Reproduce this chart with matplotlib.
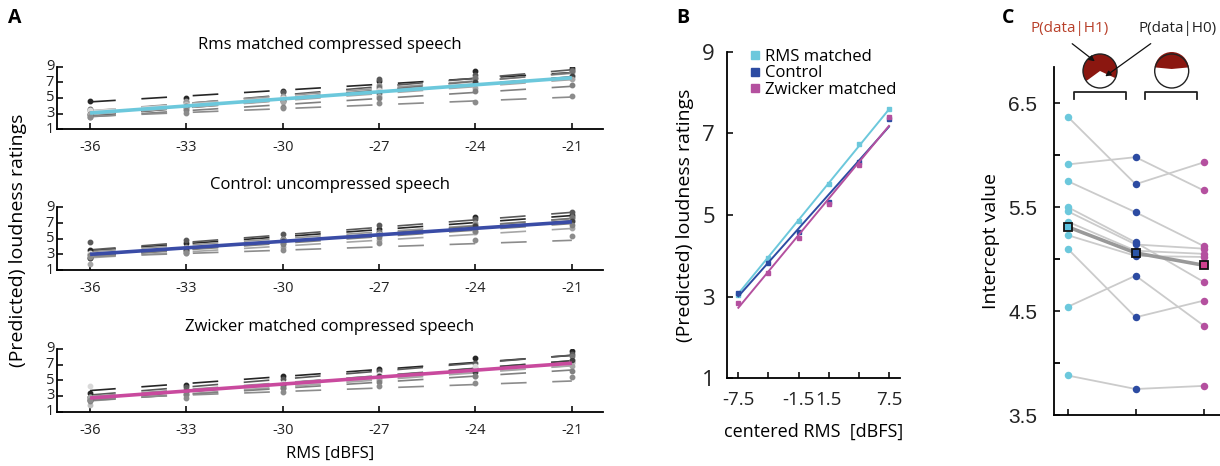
import numpy as np
import matplotlib.pyplot as plt
from matplotlib.patches import Wedge

plt.rcParams['font.family'] = ['Open Sans', 'DejaVu Sans']
plt.rcParams['axes.linewidth'] = 1.3
plt.rcParams['xtick.major.width'] = 1.3
plt.rcParams['ytick.major.width'] = 1.3
plt.rcParams['ytick.minor.width'] = 1.3

W, H = 1220, 466

# sound levels and centre used for the fits
levels = np.array([-36, -33, -30, -27, -24, -21])
centre = -28.5

cond_titles = ['Rms matched compressed speech', 'Control: uncompressed speech',
               'Zwicker matched compressed speech']
cond_names = ['RMS matched', 'Control', 'Zwicker matched']
cond_colors = ['#6CC8DC', '#2C4BA2', '#B4509F']
line_colors_a = ['#6CC8DC', '#3A4CA6', '#C94A9E']
mean_fill = ['#5BC2E0', '#2A55A8', '#D0408E']

# per participant intercepts (at centred RMS = 0)
rms_int = [6.37, 5.91, 5.75, 5.50, 5.46, 5.36, 5.23, 5.10, 4.54, 3.88]
ctl_int = [5.72, 5.98, 5.45, 5.16, 5.14, 5.08, 5.03, 4.44, 4.84, 3.75]
zw_int = [5.93, 5.66, 5.125, 4.78, 5.10, 5.05, 5.02, 4.60, 4.36, 3.78]

# per participant slopes (rating per dB)
rms_slope = [0.25, 0.36, 0.32, 0.29, 0.37, 0.27, 0.33, 0.30, 0.26, 0.165]
ctl_slope = [0.30, 0.32, 0.28, 0.27, 0.33, 0.29, 0.30, 0.25, 0.28, 0.14]
zw_slope = [0.30, 0.34, 0.29, 0.28, 0.32, 0.31, 0.33, 0.30, 0.26, 0.15]

# mean ratings per participant at each level
rms_pts = [[4.6, 5.0, 5.9, 7.2, 8.4, 8.8],
           [3.6, 4.5, 5.8, 7.4, 7.9, 8.6],
           [3.4, 4.6, 5.3, 6.6, 7.5, 8.3],
           [3.3, 4.2, 5.0, 6.1, 7.2, 8.0],
           [2.8, 4.0, 4.8, 6.4, 7.5, 8.4],
           [3.5, 3.9, 5.0, 6.0, 6.6, 7.5],
           [2.9, 3.8, 4.6, 5.6, 7.0, 7.8],
           [3.0, 3.6, 4.5, 5.3, 6.3, 7.4],
           [2.6, 3.4, 3.8, 5.0, 5.9, 6.6],
           [2.6, 3.1, 3.7, 4.3, 4.5, 5.2]]
ctl_pts = [[3.5, 4.4, 5.0, 6.3, 7.8, 8.0],
           [4.6, 4.8, 5.6, 6.8, 7.5, 8.4],
           [3.0, 4.0, 5.0, 5.8, 7.0, 7.6],
           [2.9, 3.8, 4.6, 5.5, 6.5, 7.4],
           [2.5, 3.6, 4.5, 5.8, 6.8, 7.8],
           [3.2, 3.7, 4.4, 5.6, 6.3, 7.2],
           [2.6, 3.5, 4.7, 5.5, 6.6, 7.3],
           [1.8, 3.2, 4.0, 4.9, 5.8, 6.4],
           [2.9, 3.3, 4.3, 5.2, 6.0, 6.8],
           [2.7, 3.2, 3.5, 4.4, 4.8, 5.3]]
zw_pts = [[3.4, 4.4, 5.6, 6.4, 7.9, 8.7],
          [2.9, 4.2, 5.2, 6.2, 7.2, 8.4],
          [2.6, 3.6, 4.6, 5.6, 6.5, 7.4],
          [1.8, 3.2, 4.2, 5.2, 6.3, 7.2],
          [2.8, 3.8, 4.5, 5.4, 6.6, 8.1],
          [4.3, 3.4, 4.6, 5.8, 6.8, 7.6],
          [2.5, 3.6, 4.4, 5.5, 6.0, 7.6],
          [2.9, 3.1, 4.0, 5.0, 5.6, 6.8],
          [2.4, 3.3, 4.0, 4.8, 5.6, 6.2],
          [2.5, 2.7, 3.5, 4.3, 4.7, 5.4]]

greys = [0.15, 0.35, 0.6, 0.75, 0.45, 0.85, 0.25, 0.65, 0.5, 0.55]

# group fits
fit_int = [5.33, 5.085, 4.955]
fit_slope = [0.301, 0.277, 0.297]
grp_rms = [3.05, 3.94, 4.85, 5.75, 6.75, 7.60]
grp_ctl = [3.08, 3.83, 4.59, 5.33, 6.29, 7.35]
grp_zw = [2.85, 3.59, 4.43, 5.27, 6.22, 7.39]

# pie shares for the Bayes factor icons
h1_share = [0.67, 0.47]


def rect(left, top, right, bottom):
    return [left / W, 1 - bottom / H, (right - left) / W, (bottom - top) / H]


fig = plt.figure(figsize=(W / 100, H / 100), dpi=100)

# ---------- panel A ----------
ints = [rms_int, ctl_int, zw_int]
slopes = [rms_slope, ctl_slope, zw_slope]
pts = [rms_pts, ctl_pts, zw_pts]
tops = [66.7, 207.5, 349.0]
xlim_a = (-37.03, -20.03)
px_per_db = (603 - 57) / (xlim_a[1] - xlim_a[0])
dash_pt = 0.8 * px_per_db * 72 / 100
lw_grey = 1.2
xs = np.array([levels[0], levels[-1]])

for k in range(3):
    ax = fig.add_axes(rect(57, tops[k], 603, tops[k] + 62.5))
    for i in range(len(ints[k])):
        g = str(greys[i])
        ys = ints[k][i] + slopes[k][i] * (xs - centre)
        ax.plot(xs, ys, color=g, lw=lw_grey,
                linestyle=(0, (dash_pt / lw_grey, dash_pt / lw_grey)))
        ax.plot(levels, pts[k][i], 'o', ms=3.2, color=g, mec=g, zorder=3)
    ax.plot(xs, fit_int[k] + fit_slope[k] * (xs - centre),
            color=line_colors_a[k], lw=2.6, zorder=4, solid_capstyle='butt')
    ax.set_xlim(*xlim_a)
    ax.set_ylim(1, 9)
    ax.set_xticks(levels)
    ax.set_xticklabels([str(v) for v in levels])
    ax.set_yticks([1, 3, 5, 7, 9])
    ax.tick_params(direction='in', length=4, labelsize=10.5, colors='#222222')
    ax.tick_params(axis='x', pad=8)
    ax.tick_params(axis='y', pad=2)
    for lab in ax.get_yticklabels():
        lab.set_verticalalignment('center')
    ax.spines[['top', 'right']].set_visible(False)
    ax.set_title(cond_titles[k], fontsize=12, pad=13)
    if k == 2:
        ax.set_xlabel('RMS [dBFS]', fontsize=12, labelpad=6)

fig.text(18 / W, 1 - 240 / H, '(Predicted) loudness ratings', rotation=90,
         fontsize=14, ha='center', va='center')

# ---------- panel B ----------
axb = fig.add_axes(rect(727.3, 51.7, 900, 378.3))
xc = levels - centre
grp = [grp_rms, grp_ctl, grp_zw]
for k in range(3):
    xl = np.array([xc[0], xc[-1]])
    axb.plot(xl, fit_int[k] + fit_slope[k] * xl, color=cond_colors[k], lw=1.4)
    axb.plot(xc, grp[k], 's', ms=2.8, color=cond_colors[k], label=cond_names[k])
axb.set_xlim(-8.6, 8.6)
axb.set_ylim(1, 9)
axb.set_xticks(xc)
axb.set_xticklabels(['-7.5', '', '-1.5', '1.5', '', '7.5'])
axb.set_yticks([1, 3, 5, 7, 9])
axb.tick_params(direction='in', length=4, colors='#222222')
axb.tick_params(axis='x', labelsize=13.5, pad=9)
axb.tick_params(axis='y', labelsize=16, pad=9)
axb.spines[['top', 'right']].set_visible(False)
axb.set_xlabel('centered RMS  [dBFS]', fontsize=13, labelpad=10)
axb.set_ylabel('(Predicted) loudness ratings', fontsize=14, labelpad=6)
leg = axb.legend(loc='upper left', bbox_to_anchor=(0.1, 1.03), frameon=False,
                 fontsize=12, handlelength=0.5, handletextpad=0.3,
                 labelspacing=0.05, borderaxespad=0, markerscale=2.0)

# ---------- panel C ----------
axc = fig.add_axes(rect(1054, 66.7, 1220, 415))
allc = [rms_int, ctl_int, zw_int]
for i in range(len(rms_int)):
    axc.plot([1, 2, 3], [rms_int[i], ctl_int[i], zw_int[i]], color='#cbcbcb',
             lw=1.3, zorder=1)
for k in range(3):
    axc.plot(np.full(len(allc[k]), k + 1), allc[k], 'o', ms=5.4,
             color=cond_colors[k], mec='none', zorder=2)
means = [np.mean(v) for v in allc]
axc.plot([1, 2, 3], means, color='#999999', lw=2.6, zorder=3)
for k in range(3):
    axc.plot(k + 1, means[k], 's', ms=6, mfc=mean_fill[k], mec='#111111',
             mew=1.3, zorder=4)
axc.set_xlim(0.8, 3.24)
axc.set_ylim(3.5, 6.85)
axc.set_xticks([1, 2, 3])
axc.set_xticklabels([])
axc.set_yticks([3.5, 4.5, 5.5, 6.5])
axc.set_yticks([4.0, 5.0, 6.0], minor=True)
axc.tick_params(direction='in', length=4, labelsize=15, colors='#222222')
axc.tick_params(axis='y', pad=12)
axc.tick_params(axis='y', which='minor', direction='in', length=4)
axc.spines[['top', 'right']].set_visible(False)
for lab in axc.get_yticklabels():
    lab.set_family(['Liberation Sans', 'DejaVu Sans'])
axc.set_ylabel('Intercept value', fontsize=14, labelpad=6)

# Bayes factor icons and brackets above panel C
ov = fig.add_axes([0, 0, 1, 1])
ov.set_xlim(0, W)
ov.set_ylim(0, H)
ov.axis('off')
red = '#8B1710'
for j, cx in enumerate([1100, 1171.7]):
    cy = H - 71
    r = 17
    share = h1_share[j]
    if j == 0:
        # white slice opening towards the lower right
        gap = 360 * (1 - share)
        start = -25
        ov.add_patch(Wedge((cx, cy), r, start, start - gap + 360, fc=red,
                           ec='none'))
    else:
        half = 180 * share
        ov.add_patch(Wedge((cx, cy + 2), r, 90 - half, 90 + half, fc=red,
                           ec='none'))
    ov.add_patch(plt.Circle((cx, cy), r, fc='none', ec='#222222', lw=1.0))
for x0, x1 in [(1074, 1126), (1145, 1197)]:
    ov.plot([x0, x0, x1, x1], [H - 99, H - 92, H - 92, H - 99], color='#222222',
            lw=1.3)
ov.annotate('', xy=(1097, H - 63), xytext=(1070, H - 42),
            arrowprops=dict(arrowstyle='-|>', color='#111111', lw=0.9,
                            mutation_scale=8))
ov.annotate('', xy=(1103, H - 78), xytext=(1153, H - 42),
            arrowprops=dict(arrowstyle='-|>', color='#111111', lw=0.9,
                            mutation_scale=8))
ov.text(1070, H - 28, 'P(data|H1)', color='#B8402A', fontsize=11,
        ha='center', va='center')
ov.text(1178, H - 28, 'P(data|H0)', color='#222222', fontsize=11,
        ha='center', va='center')

# panel letters
for letter, x in [('A', 15), ('B', 683), ('C', 1008)]:
    fig.text(x / W, 1 - 18 / H, letter, fontsize=14, fontweight='bold',
             ha='center', va='center')

fig.savefig('out.png', dpi=100)
